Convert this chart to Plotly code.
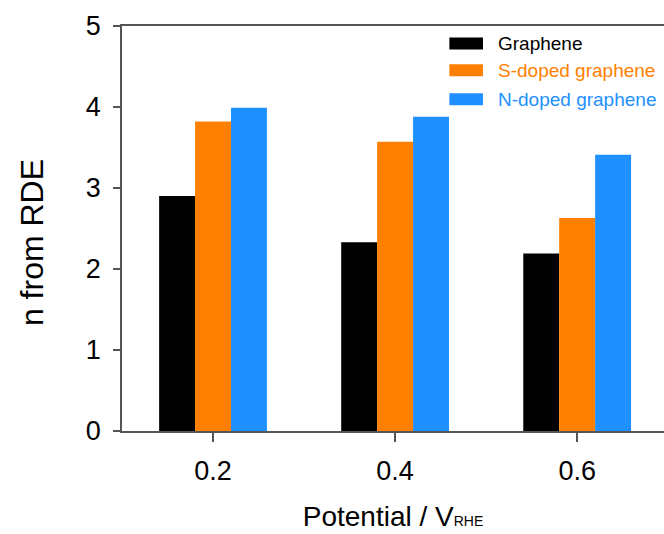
import plotly.graph_objects as go

potentials = [0.2, 0.4, 0.6]
series_names = ["Graphene", "S-doped graphene", "N-doped graphene"]
graphene = [2.90, 2.33, 2.19]
s_doped = [3.82, 3.57, 2.63]
n_doped = [3.99, 3.88, 3.41]
colors = ["#000000", "#FF8000", "#1E90FF"]
y_ticks = [0, 1, 2, 3, 4, 5]

FONT = "Liberation Sans, Arial, sans-serif"
AX = "#555555"

fig = go.Figure()
for name, vals, col in zip(series_names, [graphene, s_doped, n_doped], colors):
    fig.add_trace(go.Bar(x=potentials, y=vals, name=name, marker=dict(color=col, line=dict(width=0)),
                         showlegend=False))

# manual legend (wide swatches, coloured text)
leg_y = [0.957, 0.891, 0.819]
sw_h = 0.0296
for name, col, yy in zip(series_names, colors, leg_y):
    fig.add_shape(type="rect", xref="paper", yref="paper", x0=0.604, x1=0.666,
                  y0=yy - sw_h / 2, y1=yy + sw_h / 2, fillcolor=col, line=dict(width=0))
    fig.add_annotation(xref="paper", yref="paper", x=0.690, y=yy, text=name, showarrow=False,
                       xanchor="left", yanchor="middle", font=dict(family=FONT, size=19, color=col))

# small extension of the x-axis line to the left of the y-axis
fig.add_shape(type="line", xref="paper", yref="paper", x0=-0.016, x1=0, y0=0, y1=0,
              line=dict(color=AX, width=1.5))

# y-axis title (placed slightly below the plot centre, as in the reference)
fig.add_annotation(xref="paper", yref="paper", x=0, y=0.464, xshift=-90, text="n from RDE",
                   textangle=-90, showarrow=False, xanchor="center", yanchor="middle",
                   font=dict(family=FONT, size=32, color="black"))

fig.update_layout(
    width=664, height=534,
    margin=dict(l=122, r=0, t=26, b=103),
    paper_bgcolor="white", plot_bgcolor="white",
    barmode="group", bargap=0.408, bargroupgap=0,
    font=dict(family=FONT, color="black"),
    xaxis=dict(
        range=[0.1, 0.6954], tickvals=potentials, ticktext=["0.2", "0.4", "0.6"],
        ticks="outside", ticklen=9, tickwidth=1.5, tickcolor=AX,
        showline=True, linecolor=AX, linewidth=1.5, mirror=True,
        showgrid=False, zeroline=False,
        tickfont=dict(size=27, family=FONT, color="black"),
        ticklabelstandoff=6,
        title=dict(text="Potential / V<span style='font-size:14px'>RHE</span>",
                   font=dict(size=28, family=FONT, color="black"), standoff=21),
    ),
    yaxis=dict(
        range=[0, 5], tickvals=y_ticks,
        ticks="outside", ticklen=7, tickwidth=1.5, tickcolor=AX,
        showline=True, linecolor=AX, linewidth=1.5,
        showgrid=False, zeroline=False,
        tickfont=dict(size=27, family=FONT, color="black"),
        ticklabelstandoff=7,
    ),
)

fig.write_html("out.html", config={"displayModeBar": False},
               post_script="document.body.style.margin='0';document.body.style.overflow='hidden';")
